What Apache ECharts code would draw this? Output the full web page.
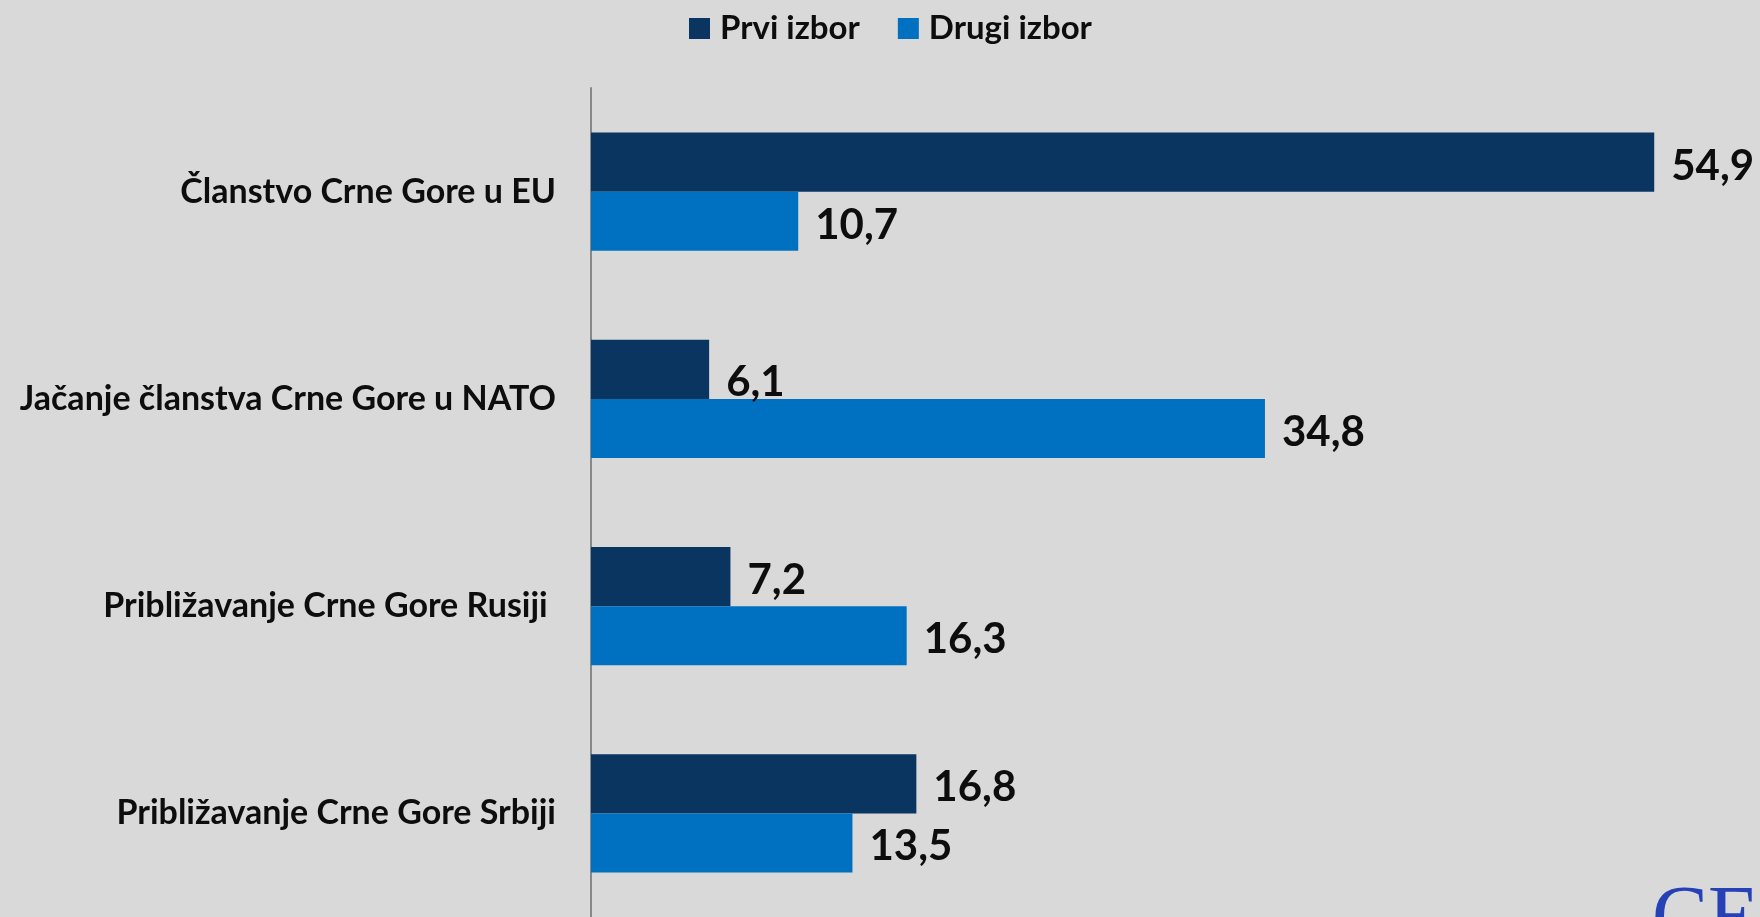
<!DOCTYPE html>
<html>
<head>
<meta charset="utf-8">
<script src="https://cdn.jsdelivr.net/npm/echarts@6/dist/echarts.min.js"></script>
<style>
  html, body { margin: 0; padding: 0; background: #d9d9d9; }
  #chart { width: 1760px; height: 917px; }
</style>
</head>
<body>
<div id="chart"></div>
<script>
// categories, top to bottom
const categories = [
    "Članstvo Crne Gore u EU",
    "Jačanje članstva Crne Gore u NATO",
    "Približavanje Crne Gore Rusiji ",
    "Približavanje Crne Gore Srbiji"
];
const seriesNames = ["Prvi izbor", "Drugi izbor"];
const prviIzbor = [54.9, 6.1, 7.2, 16.8];
const drugiIzbor = [10.7, 34.8, 16.3, 13.5];

const colors = ["#0a3560", "#0070c0"];
const font = "Lato";

const chart = echarts.init(document.getElementById("chart"));

const fmt = p => String(p.value).replace(".", ",");

// Excel nudged the "6,1" label down a bit to clear its neighbour
const prviData = prviIzbor.map((v, i) =>
    i === 1 ? { value: v, label: { offset: [0, 13] } } : v);

function barSeries(name, data, color) {
    return {
        name: name,
        type: "bar",
        data: data,
        barGap: "0%",
        barCategoryGap: "43%",
        itemStyle: { color: color },
        label: {
            show: true,
            position: "right",
            distance: 17,
            offset: [0, 4],
            formatter: fmt,
            color: "#0d0d0d",
            fontFamily: font,
            fontWeight: "bold",
            fontSize: 42,
        },
    };
}

chart.setOption({
    backgroundColor: "#d9d9d9",
    animation: false,
    color: colors,
    legend: {
        top: 7,
        left: 684,
        itemWidth: 21,
        itemHeight: 21,
        itemGap: 38,
        icon: "rect",
        textStyle: {
            fontFamily: font,
            fontWeight: "bold",
            fontSize: 33,
            color: "#0d0d0d",
            padding: [0, 0, 0, 5],
        },
        data: seriesNames,
    },
    grid: { left: 591, top: 88, height: 832, width: 1162 },
    xAxis: {
        type: "value",
        min: 0,
        max: 60,
        show: false,
        splitLine: { show: false },
    },
    yAxis: {
        type: "category",
        inverse: true,
        data: categories,
        axisLine: { lineStyle: { color: "#888888", width: 2 } },
        axisTick: { show: false },
        axisLabel: {
            margin: 35,
            color: "#0d0d0d",
            fontFamily: font,
            fontWeight: "bold",
            fontSize: 34,
        },
    },
    series: [
        barSeries(seriesNames[0], prviData, colors[0]),
        barSeries(seriesNames[1], drugiIzbor, colors[1]),
    ],
    graphic: [{
        type: "text",
        left: 1652,
        top: 880,
        silent: true,
        style: {
            text: "CEDEM",
            fill: "#2641b5",
            font: "84px 'Liberation Serif'",
        },
    }],
});
</script>
</body>
</html>
